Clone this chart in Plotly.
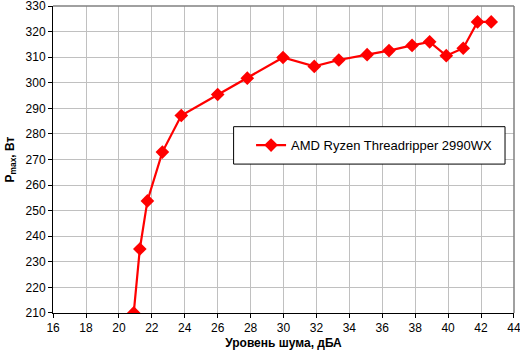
import plotly.graph_objects as go

noise_dba = [20.9, 21.27, 21.73, 22.64, 23.79, 26.0, 27.8, 29.97, 31.87, 33.36,
             35.08, 36.41, 37.81, 38.88, 39.89, 40.92, 41.79, 42.62]
p_max_w = [210.0, 235.0, 253.8, 272.9, 287.2, 295.4, 301.8, 309.9, 306.4, 308.9,
           311.0, 312.6, 314.6, 316.0, 310.6, 313.5, 323.8, 323.8]
series_name = "AMD Ryzen Threadripper 2990WX"
x_ticks = list(range(16, 45, 2))
y_ticks = list(range(210, 331, 10))

L, R, T, B = 52.5, 5.5, 5.5, 43.7
W, H = 520, 357
pw, ph = W - L - R, H - T - B

def px_x(p):
    return (p - L) / pw

def px_y(p):
    return (H - B - p) / ph

fig = go.Figure()
fig.add_trace(go.Scatter(
    x=noise_dba, y=p_max_w, mode="lines+markers", name=series_name,
    line=dict(color="#FF0000", width=2.2),
    marker=dict(symbol="diamond", size=10.5, color="#FF0000"),
))

fig.update_layout(
    width=W, height=H,
    margin=dict(l=L, r=R, t=T, b=B, autoexpand=False),
    paper_bgcolor="white", plot_bgcolor="white",
    font=dict(family="Arial, Liberation Sans, sans-serif", size=12, color="black"),
    showlegend=True,
    legend=dict(x=px_x(251), y=px_y(145), xanchor="left", yanchor="middle",
                bgcolor="rgba(0,0,0,0)", borderwidth=0,
                font=dict(size=13, color="black")),
    xaxis=dict(range=[15.995, 44.005], tickvals=x_ticks, ticktext=[str(v) for v in x_ticks],
               showgrid=True, gridcolor="#C0C0C0", gridwidth=1,
               showline=True, linecolor="black", linewidth=1,
               ticks="outside", ticklen=4, tickcolor="black",
               zeroline=False, automargin=False, ticklabeloverflow="allow",
               title=dict(text="<b>Уровень шума, дБА</b>", standoff=4,
                          font=dict(size=12))),
    yaxis=dict(range=[209.98, 330.02], tickvals=y_ticks, ticktext=[str(v) for v in y_ticks],
               showgrid=True, gridcolor="#C0C0C0", gridwidth=1,
               showline=True, linecolor="black", linewidth=1,
               ticks="outside", ticklen=4, tickcolor="black",
               zeroline=False, automargin=False, ticklabeloverflow="allow",
               title=dict(text="<b>P<sub>max</sub>, Вт</b>", standoff=8,
                          font=dict(size=12))),
)
fig.add_shape(type="line", xref="paper", yref="paper", x0=0, x1=1, y0=1, y1=1,
              line=dict(color="#808080", width=1.5))
fig.add_shape(type="line", xref="paper", yref="paper", x0=1, x1=1, y0=0, y1=1,
              line=dict(color="#808080", width=1.5))
fig.add_shape(type="rect", xref="paper", yref="paper",
              x0=px_x(233.5), x1=px_x(505.5), y0=px_y(164), y1=px_y(126.5),
              line=dict(color="black", width=1), fillcolor="white", layer="above")

fig.write_html("out.html", config={"displayModeBar": False},
               post_script="document.body.style.margin='0';document.body.style.overflow='hidden';")
